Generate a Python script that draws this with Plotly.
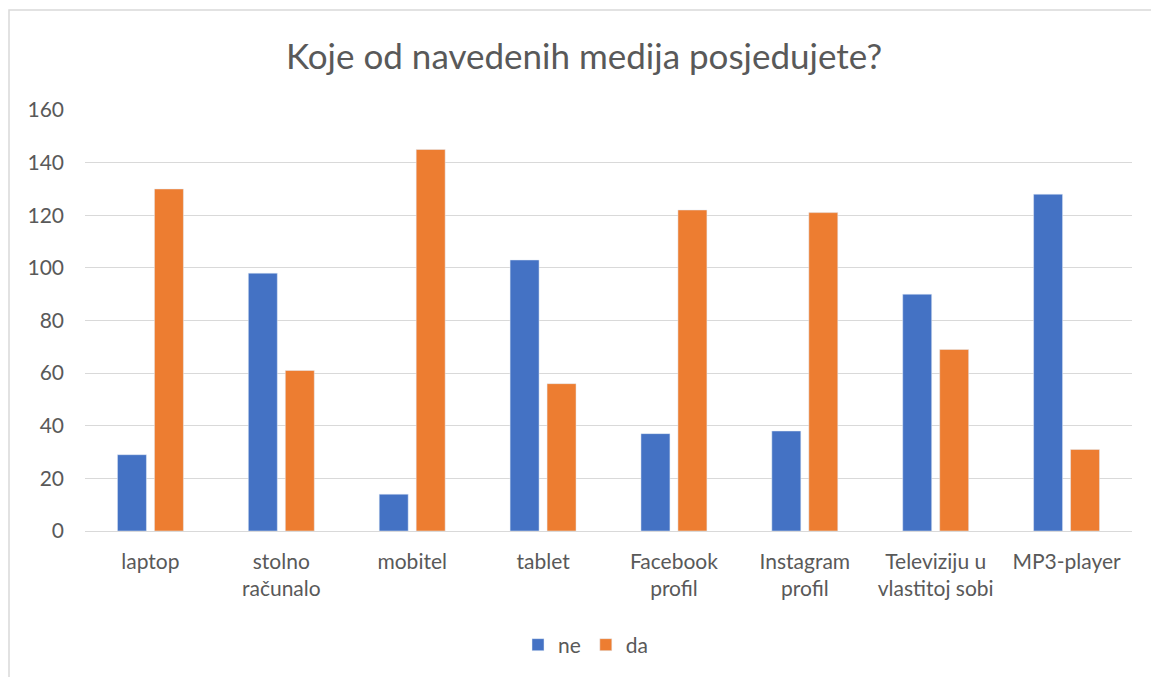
import plotly.graph_objects as go

categories = ["laptop", "stolno<br>računalo", "mobitel", "tablet", "Facebook<br>profil",
              "Instagram<br>profil", "Televiziju u<br>vlastitoj sobi", "MP3-player"]
ne_values = [29, 98, 14, 103, 37, 38, 90, 128]
da_values = [130, 61, 145, 56, 122, 121, 69, 31]
y_ticks = [0, 20, 40, 60, 80, 100, 120, 140, 160]

W, H = 1151, 677
L, R, T, B = 85, 19, 110, 146
pw, ph = W - L - R, H - T - B

font_family = "Lato, 'Open Sans', sans-serif"
txt = "#595959"

fig = go.Figure()
fig.add_trace(go.Bar(x=categories, y=ne_values, name="ne", marker_color="#4472C4"))
fig.add_trace(go.Bar(x=categories, y=da_values, name="da", marker_color="#ED7D31"))

fig.update_layout(
    width=W, height=H,
    margin=dict(l=L, r=R, t=T, b=B),
    paper_bgcolor="white", plot_bgcolor="white",
    font=dict(family=font_family, color=txt, size=21),
    title=dict(text="Koje od navedenih medija posjedujete?", x=584 / W, xanchor="center",
               y=1 - 57 / H, yanchor="middle", font=dict(size=35, color=txt)),
    barmode="group", bargap=0.435, bargroupgap=0.216,
    showlegend=True,
    legend=dict(orientation="h", x=(586 - L) / pw, xanchor="center", y=(531 - 645) / ph,
                yanchor="middle", font=dict(size=21, color=txt), traceorder="normal",
                itemwidth=30, bgcolor="rgba(0,0,0,0)"),
    xaxis=dict(showgrid=False, showline=False, ticks="", ticklabelstandoff=16,
               tickfont=dict(size=21, color=txt)),
    yaxis=dict(range=[0, 160], tickvals=y_ticks, showgrid=True, gridcolor="#D9D9D9", gridwidth=1,
               zeroline=True, zerolinecolor="#D9D9D9", zerolinewidth=1, showline=False,
               ticks="", ticklabelstandoff=20, tickfont=dict(size=21, color=txt)),
)

fig.add_shape(type="rect", xref="paper", yref="paper",
              x0=(9 - L) / pw, x1=(W + 60 - L) / pw,
              y0=-(B + 60) / ph, y1=1 + (T - 10) / ph,
              line=dict(color="#D9D9D9", width=1.5), fillcolor="rgba(0,0,0,0)", layer="below")

fig.write_html("out.html", config={"displayModeBar": False},
               post_script="document.body.style.margin='0';document.body.style.overflow='hidden';")
